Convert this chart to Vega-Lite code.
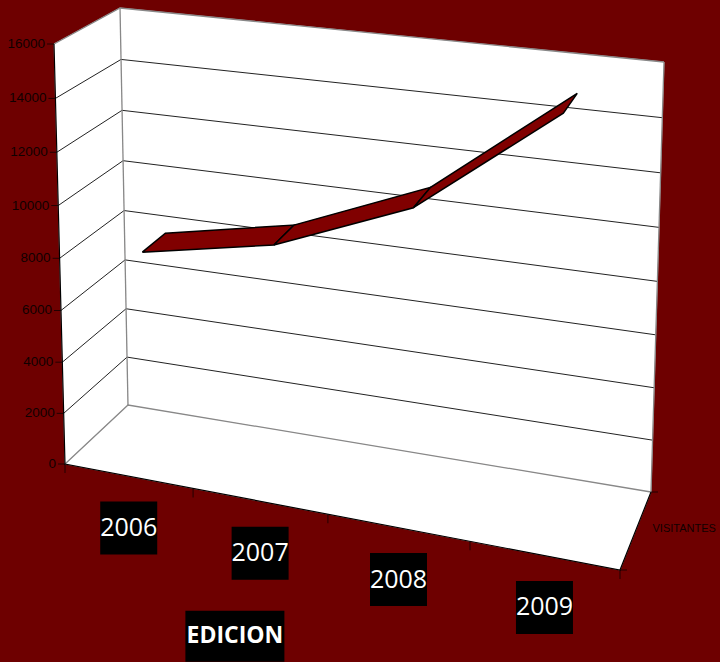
{"$schema":"https://vega.github.io/schema/vega-lite/v6.json","width":720,"height":662,"padding":0,"autosize":{"type":"fit","contains":"padding"},"background":"#6e0000","config":{"view":{"stroke":null}},
"data":{"values":[
{"capa":"pared","id":"izquierda","orden":1,"edicion":2005.5,"visitantes":0,"fondo":0},
{"capa":"pared","id":"izquierda","orden":2,"edicion":2005.5,"visitantes":16000,"fondo":0},
{"capa":"pared","id":"izquierda","orden":3,"edicion":2005.5,"visitantes":16000,"fondo":1},
{"capa":"pared","id":"izquierda","orden":4,"edicion":2005.5,"visitantes":0,"fondo":1},
{"capa":"pared","id":"izquierda","orden":5,"edicion":2005.5,"visitantes":0,"fondo":0},
{"capa":"pared","id":"trasera","orden":1,"edicion":2005.5,"visitantes":0,"fondo":1},
{"capa":"pared","id":"trasera","orden":2,"edicion":2005.5,"visitantes":16000,"fondo":1},
{"capa":"pared","id":"trasera","orden":3,"edicion":2009.5,"visitantes":16000,"fondo":1},
{"capa":"pared","id":"trasera","orden":4,"edicion":2009.5,"visitantes":0,"fondo":1},
{"capa":"pared","id":"trasera","orden":5,"edicion":2005.5,"visitantes":0,"fondo":1},
{"capa":"pared","id":"suelo","orden":1,"edicion":2005.5,"visitantes":0,"fondo":0},
{"capa":"pared","id":"suelo","orden":2,"edicion":2005.5,"visitantes":0,"fondo":1},
{"capa":"pared","id":"suelo","orden":3,"edicion":2009.5,"visitantes":0,"fondo":1},
{"capa":"pared","id":"suelo","orden":4,"edicion":2009.5,"visitantes":0,"fondo":0},
{"capa":"pared","id":"suelo","orden":5,"edicion":2005.5,"visitantes":0,"fondo":0},

{"capa":"rejilla","id":"g2000","orden":1,"edicion":2005.5,"visitantes":2000,"fondo":0},
{"capa":"rejilla","id":"g2000","orden":2,"edicion":2005.5,"visitantes":2000,"fondo":1},
{"capa":"rejilla","id":"g2000","orden":3,"edicion":2009.5,"visitantes":2000,"fondo":1},
{"capa":"rejilla","id":"g4000","orden":1,"edicion":2005.5,"visitantes":4000,"fondo":0},
{"capa":"rejilla","id":"g4000","orden":2,"edicion":2005.5,"visitantes":4000,"fondo":1},
{"capa":"rejilla","id":"g4000","orden":3,"edicion":2009.5,"visitantes":4000,"fondo":1},
{"capa":"rejilla","id":"g6000","orden":1,"edicion":2005.5,"visitantes":6000,"fondo":0},
{"capa":"rejilla","id":"g6000","orden":2,"edicion":2005.5,"visitantes":6000,"fondo":1},
{"capa":"rejilla","id":"g6000","orden":3,"edicion":2009.5,"visitantes":6000,"fondo":1},
{"capa":"rejilla","id":"g8000","orden":1,"edicion":2005.5,"visitantes":8000,"fondo":0},
{"capa":"rejilla","id":"g8000","orden":2,"edicion":2005.5,"visitantes":8000,"fondo":1},
{"capa":"rejilla","id":"g8000","orden":3,"edicion":2009.5,"visitantes":8000,"fondo":1},
{"capa":"rejilla","id":"g10000","orden":1,"edicion":2005.5,"visitantes":10000,"fondo":0},
{"capa":"rejilla","id":"g10000","orden":2,"edicion":2005.5,"visitantes":10000,"fondo":1},
{"capa":"rejilla","id":"g10000","orden":3,"edicion":2009.5,"visitantes":10000,"fondo":1},
{"capa":"rejilla","id":"g12000","orden":1,"edicion":2005.5,"visitantes":12000,"fondo":0},
{"capa":"rejilla","id":"g12000","orden":2,"edicion":2005.5,"visitantes":12000,"fondo":1},
{"capa":"rejilla","id":"g12000","orden":3,"edicion":2009.5,"visitantes":12000,"fondo":1},
{"capa":"rejilla","id":"g14000","orden":1,"edicion":2005.5,"visitantes":14000,"fondo":0},
{"capa":"rejilla","id":"g14000","orden":2,"edicion":2005.5,"visitantes":14000,"fondo":1},
{"capa":"rejilla","id":"g14000","orden":3,"edicion":2009.5,"visitantes":14000,"fondo":1},

{"capa":"gris","id":"a","orden":1,"edicion":2005.5,"visitantes":0,"fondo":0},
{"capa":"gris","id":"a","orden":2,"edicion":2005.5,"visitantes":0,"fondo":1},
{"capa":"gris","id":"a","orden":3,"edicion":2009.5,"visitantes":0,"fondo":1},
{"capa":"gris","id":"b","orden":1,"edicion":2005.5,"visitantes":16000,"fondo":0},
{"capa":"gris","id":"b","orden":2,"edicion":2005.5,"visitantes":16000,"fondo":1},
{"capa":"gris","id":"b","orden":3,"edicion":2009.5,"visitantes":16000,"fondo":1},
{"capa":"gris","id":"c","orden":1,"edicion":2005.5,"visitantes":0,"fondo":1},
{"capa":"gris","id":"c","orden":2,"edicion":2005.5,"visitantes":16000,"fondo":1},
{"capa":"gris","id":"d","orden":1,"edicion":2009.5,"visitantes":0,"fondo":1},
{"capa":"gris","id":"d","orden":2,"edicion":2009.5,"visitantes":16000,"fondo":1},

{"capa":"negro","id":"e","orden":1,"edicion":2005.5,"visitantes":16000,"fondo":0},
{"capa":"negro","id":"e","orden":2,"edicion":2005.5,"visitantes":0,"fondo":0},
{"capa":"negro","id":"e","orden":3,"edicion":2009.5,"visitantes":0,"fondo":0},
{"capa":"negro","id":"e","orden":4,"edicion":2009.5,"visitantes":0,"fondo":1},

{"capa":"cinta","id":"t1","orden":1,"edicion":2006,"visitantes":8050,"fondo":0.3},
{"capa":"cinta","id":"t1","orden":2,"edicion":2007,"visitantes":9060,"fondo":0.3},
{"capa":"cinta","id":"t1","orden":3,"edicion":2007,"visitantes":9060,"fondo":0.68},
{"capa":"cinta","id":"t1","orden":4,"edicion":2006,"visitantes":8050,"fondo":0.68},
{"capa":"cinta","id":"t1","orden":5,"edicion":2006,"visitantes":8050,"fondo":0.3},
{"capa":"cinta","id":"t2","orden":1,"edicion":2007,"visitantes":9060,"fondo":0.3},
{"capa":"cinta","id":"t2","orden":2,"edicion":2008,"visitantes":11160,"fondo":0.3},
{"capa":"cinta","id":"t2","orden":3,"edicion":2008,"visitantes":11160,"fondo":0.68},
{"capa":"cinta","id":"t2","orden":4,"edicion":2007,"visitantes":9060,"fondo":0.68},
{"capa":"cinta","id":"t2","orden":5,"edicion":2007,"visitantes":9060,"fondo":0.3},
{"capa":"cinta","id":"t3","orden":1,"edicion":2008,"visitantes":11160,"fondo":0.3},
{"capa":"cinta","id":"t3","orden":2,"edicion":2009,"visitantes":15200,"fondo":0.3},
{"capa":"cinta","id":"t3","orden":3,"edicion":2009,"visitantes":15200,"fondo":0.68},
{"capa":"cinta","id":"t3","orden":4,"edicion":2008,"visitantes":11160,"fondo":0.68},
{"capa":"cinta","id":"t3","orden":5,"edicion":2008,"visitantes":11160,"fondo":0.3},

{"capa":"eje_y","edicion":2005.5,"visitantes":0,"fondo":0,"texto":"0"},
{"capa":"eje_y","edicion":2005.5,"visitantes":2000,"fondo":0,"texto":"2000"},
{"capa":"eje_y","edicion":2005.5,"visitantes":4000,"fondo":0,"texto":"4000"},
{"capa":"eje_y","edicion":2005.5,"visitantes":6000,"fondo":0,"texto":"6000"},
{"capa":"eje_y","edicion":2005.5,"visitantes":8000,"fondo":0,"texto":"8000"},
{"capa":"eje_y","edicion":2005.5,"visitantes":10000,"fondo":0,"texto":"10000"},
{"capa":"eje_y","edicion":2005.5,"visitantes":12000,"fondo":0,"texto":"12000"},
{"capa":"eje_y","edicion":2005.5,"visitantes":14000,"fondo":0,"texto":"14000"},
{"capa":"eje_y","edicion":2005.5,"visitantes":16000,"fondo":0,"texto":"16000"},

{"capa":"marca_x","edicion":2005.5,"visitantes":0,"fondo":0},
{"capa":"marca_x","edicion":2006.5,"visitantes":0,"fondo":0},
{"capa":"marca_x","edicion":2007.5,"visitantes":0,"fondo":0},
{"capa":"marca_x","edicion":2008.5,"visitantes":0,"fondo":0},
{"capa":"marca_x","edicion":2009.5,"visitantes":0,"fondo":0},
{"capa":"marca_z","edicion":2009.5,"visitantes":0,"fondo":0},
{"capa":"marca_z","edicion":2009.5,"visitantes":0,"fondo":1},

{"capa":"cat","edicion":2006,"visitantes":0,"fondo":0,"texto":"2006"},
{"capa":"cat","edicion":2007,"visitantes":0,"fondo":0,"texto":"2007"},
{"capa":"cat","edicion":2008,"visitantes":0,"fondo":0,"texto":"2008"},
{"capa":"cat","edicion":2009,"visitantes":0,"fondo":0,"texto":"2009"},
{"capa":"titulo_x","edicion":2007.5,"visitantes":0,"fondo":0,"texto":"EDICION"},
{"capa":"titulo_z","edicion":2009.5,"visitantes":0,"fondo":0.5,"texto":"VISITANTES"}
]},
"transform":[
{"calculate":"(datum.edicion-2005.5)/4","as":"u0"},
{"calculate":"0.9*datum.u0/(1-0.1*datum.u0)","as":"u"},
{"calculate":"0.96*(datum.visitantes/16000)/(1-0.04*(datum.visitantes/16000))","as":"v"},
{"calculate":"(1-datum.fondo)*((1-datum.v)*(65+555*datum.u)+datum.v*(54+578*datum.u))+datum.fondo*((1-datum.v)*(128+523*datum.u)+datum.v*(120+544*datum.u))","as":"px"},
{"calculate":"(1-datum.fondo)*((1-datum.v)*(464+106*datum.u)+datum.v*(44+71*datum.u))+datum.fondo*((1-datum.v)*(405+87*datum.u)+datum.v*(8+54*datum.u))","as":"py"}
],
"encoding":{
"x":{"field":"px","type":"quantitative","scale":{"domain":[0,720]},"axis":null},
"y":{"field":"py","type":"quantitative","scale":{"domain":[662,0]},"axis":null}
},
"layer":[
{"transform":[{"filter":"datum.capa=='pared'"}],"mark":{"type":"line","fill":"#ffffff","stroke":"#ffffff","strokeWidth":0.5},"encoding":{"detail":{"field":"id"},"order":{"field":"orden"}}},
{"transform":[{"filter":"datum.capa=='rejilla'"}],"mark":{"type":"line","stroke":"#222222","strokeWidth":1},"encoding":{"detail":{"field":"id"},"order":{"field":"orden"}}},
{"transform":[{"filter":"datum.capa=='gris'"}],"mark":{"type":"line","stroke":"#888888","strokeWidth":1.3},"encoding":{"detail":{"field":"id"},"order":{"field":"orden"}}},
{"transform":[{"filter":"datum.capa=='negro'"}],"mark":{"type":"line","stroke":"#000000","strokeWidth":1.2},"encoding":{"detail":{"field":"id"},"order":{"field":"orden"}}},
{"transform":[{"filter":"datum.capa=='cinta'"}],"mark":{"type":"line","fill":"#800000","stroke":"#000000","strokeWidth":1.5},"encoding":{"detail":{"field":"id"},"order":{"field":"orden"}}},
{"transform":[{"filter":"datum.capa=='eje_y'"}],"mark":{"type":"tick","orient":"horizontal","size":7,"thickness":1,"xOffset":-3.5,"color":"#000000"}},
{"transform":[{"filter":"datum.capa=='eje_y'"}],"mark":{"type":"text","align":"right","baseline":"middle","dx":-9,"font":"Liberation Sans","fontSize":13.5,"color":"#100000"},"encoding":{"text":{"field":"texto"}}},
{"transform":[{"filter":"datum.capa=='marca_x'"}],"mark":{"type":"tick","orient":"vertical","size":9,"thickness":1,"yOffset":4.5,"color":"#000000"}},
{"transform":[{"filter":"datum.capa=='marca_z'"}],"mark":{"type":"tick","orient":"horizontal","size":7,"thickness":1,"xOffset":3.5,"color":"#000000"}},
{"transform":[{"filter":"datum.capa=='cat'"}],"mark":{"type":"rect","width":57,"height":53,"yOffset":52,"xOffset":0.5,"color":"#000000"}},
{"transform":[{"filter":"datum.capa=='cat'"}],"mark":{"type":"text","align":"center","baseline":"middle","dy":52,"dx":0.5,"font":"Open Sans","fontSize":25,"color":"#ffffff"},"encoding":{"text":{"field":"texto"}}},
{"transform":[{"filter":"datum.capa=='titulo_x'"}],"mark":{"type":"rect","width":99,"height":51,"xOffset":-93,"yOffset":122,"color":"#000000"}},
{"transform":[{"filter":"datum.capa=='titulo_x'"}],"mark":{"type":"text","align":"center","baseline":"middle","dx":-93,"dy":122,"font":"Open Sans","fontWeight":"bold","fontSize":23,"color":"#ffffff"},"encoding":{"text":{"field":"texto"}}},
{"transform":[{"filter":"datum.capa=='titulo_z'"}],"mark":{"type":"text","align":"left","baseline":"middle","dx":17,"dy":-2,"font":"Liberation Sans","fontSize":11,"color":"#100000"},"encoding":{"text":{"field":"texto"}}}
]}
